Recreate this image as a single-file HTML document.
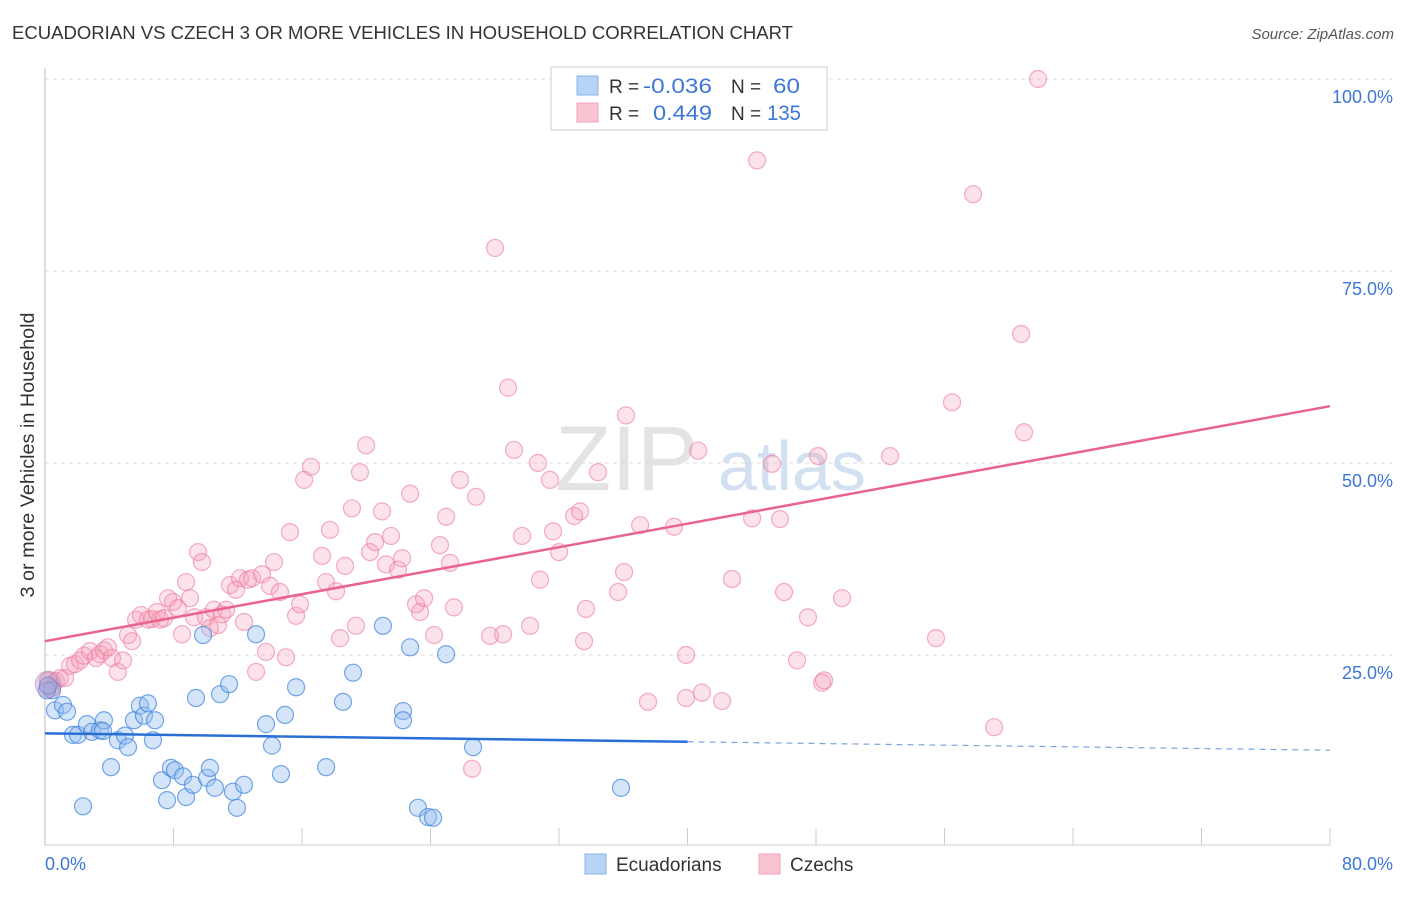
<!DOCTYPE html>
<html><head><meta charset="utf-8"><style>
body{margin:0;background:#fff;font-family:"Liberation Sans",sans-serif}
svg text{font-family:"Liberation Sans",sans-serif}
</style></head><body>
<svg id="chart" width="1406" height="892">
<text x="12" y="39" font-size="18" fill="#333" textLength="781" lengthAdjust="spacingAndGlyphs">ECUADORIAN VS CZECH 3 OR MORE VEHICLES IN HOUSEHOLD CORRELATION CHART</text>
<text x="1394" y="39" font-size="15" fill="#555" text-anchor="end" font-style="italic">Source: ZipAtlas.com</text>
<g><text x="555" y="490" font-size="92" fill="#ddd" font-family="Liberation Serif" opacity="0.8">ZIP</text><text x="718" y="490" font-size="70" fill="#c9d9ee" opacity="0.8">atlas</text></g>
<g id="grid"></g><g id="axes"></g><g id="marks"></g>
<text transform="translate(34,455) rotate(-90)" font-size="19" fill="#333" text-anchor="middle" textLength="285" lengthAdjust="spacingAndGlyphs">3 or more Vehicles in Household</text>
<g>
<rect x="551" y="67" width="276" height="63" fill="#fff" stroke="#ddd" stroke-width="1.5"/>
<rect x="577" y="76" width="21" height="19" fill="#b7d3f5" stroke="#8ab3e8"/>
<rect x="577" y="103" width="21" height="19" fill="#fac5d3" stroke="#f0a3b9"/>
<text x="609" y="93" font-size="19" fill="#333">R =</text><text x="643" y="93" font-size="21" fill="#3d78d8" textLength="69" lengthAdjust="spacingAndGlyphs">-0.036</text>
<text x="731" y="93" font-size="19" fill="#333">N =</text><text x="773" y="93" font-size="21" fill="#3d78d8" textLength="27" lengthAdjust="spacingAndGlyphs">60</text>
<text x="609" y="120" font-size="19" fill="#333">R =</text><text x="653" y="120" font-size="21" fill="#3d78d8" textLength="59" lengthAdjust="spacingAndGlyphs">0.449</text>
<text x="731" y="120" font-size="19" fill="#333">N =</text><text x="767" y="120" font-size="21" fill="#3d78d8" textLength="34" lengthAdjust="spacingAndGlyphs">135</text>
</g>
<g>
<rect x="585" y="854" width="21" height="20" fill="#b7d3f5" stroke="#8ab3e8"/><text x="616" y="871" font-size="19" fill="#333">Ecuadorians</text>
<rect x="759" y="854" width="21" height="20" fill="#fac5d3" stroke="#f0a3b9"/><text x="790" y="871" font-size="19" fill="#333">Czechs</text>
</g>
</svg>
<script>
const yTicks=[25,50,75,100];
const yTickLabels=["25.0%","50.0%","75.0%","100.0%"];
const xTickLabels=["0.0%","80.0%"];
const blueX=[0.44,0.62,1.12,1.37,1.74,2.05,2.61,2.93,3.42,3.67,3.61,4.11,2.37,4.54,4.98,5.17,5.54,5.91,6.16,6.41,6.85,6.72,7.28,7.60,7.84,8.09,8.59,8.78,9.21,9.40,9.84,10.09,10.27,10.58,10.90,11.46,11.70,11.95,12.39,13.14,13.76,14.13,14.69,14.94,15.63,17.50,18.55,19.18,21.04,22.29,22.29,22.73,23.22,23.85,24.16,24.97,26.65,35.86,0.12,0.19];
const blueY=[20.4,17.8,18.5,17.6,14.6,14.6,16.0,15.0,15.2,16.5,15.1,10.4,5.3,13.9,14.5,13.0,16.5,18.4,17.1,18.7,16.5,13.9,8.7,6.1,10.3,10.0,9.2,6.5,8.1,19.4,27.6,9.0,10.3,7.7,19.9,21.2,7.2,5.1,8.1,27.7,16.0,13.2,9.5,17.2,20.8,10.4,18.9,22.7,28.8,17.7,16.5,26.0,5.1,3.9,3.8,25.1,13.0,7.7,20.4,21.0];
const pinkX=[0.19,0.44,0.68,0.93,1.25,1.56,1.87,2.18,2.43,2.80,3.18,3.42,3.67,3.92,4.17,4.54,4.86,5.17,5.42,5.67,5.98,6.41,6.66,6.97,7.16,7.41,7.66,7.97,8.28,8.53,8.78,9.03,9.28,9.53,9.77,10.02,10.27,10.52,10.77,11.02,11.27,11.52,11.89,12.14,12.39,12.64,12.89,13.14,13.51,13.76,14.01,14.26,14.63,15.00,15.25,15.63,15.88,16.13,16.56,17.25,17.50,17.74,18.12,18.37,18.68,19.11,19.36,19.61,19.99,20.23,20.55,20.98,21.23,21.54,21.98,22.23,22.73,23.10,23.35,23.60,24.22,24.59,24.97,25.22,25.46,25.84,26.83,27.71,28.02,28.52,28.83,29.20,29.70,30.20,30.82,31.44,31.63,32.00,32.94,33.31,33.56,33.68,34.43,35.68,36.05,36.17,37.05,37.54,39.16,39.91,39.91,40.66,40.90,42.15,42.77,44.02,44.33,45.26,45.76,46.01,46.82,47.50,48.13,48.38,48.50,49.62,52.61,55.47,56.47,57.78,59.09,60.77,60.95,61.82,26.59,30.69];
const pinkY=[21.7,20.7,21.6,22.0,22.0,23.6,23.8,24.3,24.9,25.5,24.6,25.1,25.6,26.0,24.6,22.8,24.3,27.6,26.8,29.6,30.2,29.6,29.7,30.6,29.6,29.8,32.4,31.9,31.1,27.7,34.5,32.4,29.9,38.4,37.1,29.9,28.5,30.9,28.9,30.3,30.9,34.1,33.5,35.0,29.3,34.8,35.0,22.8,35.5,25.4,34.0,37.1,33.2,24.7,41.0,30.1,31.6,47.8,49.5,37.9,34.5,41.3,33.3,27.2,36.6,44.1,28.8,48.8,52.3,38.4,39.7,43.7,36.8,40.5,36.1,37.6,46.0,31.6,30.6,32.4,27.6,39.3,43.0,37.0,31.2,47.8,45.6,27.5,78.0,27.7,59.8,51.7,40.5,28.8,34.8,47.8,41.1,38.4,43.1,43.7,26.8,31.0,48.8,33.2,35.8,56.2,41.9,18.9,41.7,25.0,19.4,51.6,20.1,19.0,34.9,42.8,89.4,49.9,42.7,33.2,24.3,29.9,50.9,21.4,21.7,32.4,50.9,27.2,57.9,85.0,15.6,66.8,54.0,100.0,10.2,50.0];
const pinkTrend=[26.8,57.4];
const blueTrend=[14.8,12.6];
const blueSolidEnd=40;
const X=v=>45+v/80*1285, Y=v=>847-v/100*768;
const NS="http://www.w3.org/2000/svg";
function mk(p,t,a){const e=document.createElementNS(NS,t);for(const k in a)e.setAttribute(k,a[k]);p.appendChild(e);return e;}
const grid=document.getElementById('grid'),axes=document.getElementById('axes'),marks=document.getElementById('marks');
yTicks.forEach((t,i)=>{
 const l=mk(grid,'line',{x1:45,x2:1392,y1:Y(t),y2:Y(t),stroke:'#ddd','stroke-dasharray':'4,4'});
 
 
 const tx=mk(axes,'text',{x:1393,y:Y(t)+24,'font-size':18,fill:'#3d78d8','text-anchor':'end'});
 tx.textContent=yTickLabels[i];
 
 
});
mk(axes,'line',{x1:45,x2:45,y1:68,y2:845,stroke:'#bbb'});
mk(axes,'line',{x1:45,x2:1330,y1:845,y2:845,stroke:'#ccc'});
for(let i=1;i<=10;i++){const x=X(i*8);mk(axes,'line',{x1:x,x2:x,y1:828,y2:845,stroke:'#ccc'});}
[[0,'start',45],[80,'end',1393]].forEach((d,i)=>{const t=mk(axes,'text',{x:d[2],y:870,'font-size':18,fill:'#3d78d8','text-anchor':d[1]});t.textContent=xTickLabels[i];
 
 });
pinkX.forEach((x,i)=>{const c=mk(marks,'circle',{cx:X(x),cy:Y(pinkY[i]),r:8.5,fill:'rgba(246,160,185,0.3)',stroke:'rgba(236,120,155,0.6)','stroke-width':1.2});
 
 });
blueX.forEach((x,i)=>{const c=mk(marks,'circle',{cx:X(x),cy:Y(blueY[i]),r:8.5,fill:'rgba(150,190,240,0.4)',stroke:'rgba(60,130,220,0.7)','stroke-width':1.2});
 
 });
const big=mk(marks,'circle',{cx:X(0.2),cy:Y(21.2),r:13,fill:'rgba(180,140,190,0.4)',stroke:'rgba(200,150,190,0.6)'});


const pt=mk(marks,'line',{x1:X(0),y1:Y(pinkTrend[0]),x2:X(80),y2:Y(pinkTrend[1]),stroke:'#e8648f','stroke-width':2.5});


const bAt=v=>blueTrend[0]+(blueTrend[1]-blueTrend[0])*v/80;
const bt=mk(marks,'line',{x1:X(0),y1:Y(bAt(0)),x2:X(blueSolidEnd),y2:Y(bAt(blueSolidEnd)),stroke:'#2a6fd6','stroke-width':2.5});


const bd=mk(marks,'line',{x1:X(blueSolidEnd),y1:Y(bAt(blueSolidEnd)),x2:X(80),y2:Y(bAt(80)),stroke:'#7aa5e0','stroke-width':1.2,'stroke-dasharray':'6,5'});


</script>
</body></html>
